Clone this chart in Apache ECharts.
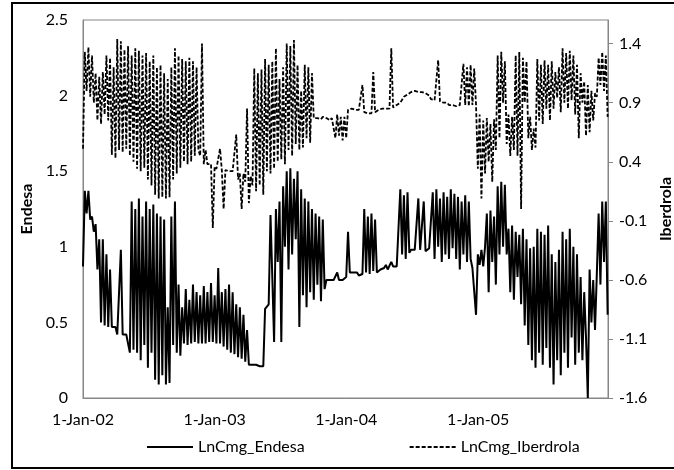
<!DOCTYPE html>
<html>
<head>
<meta charset="utf-8">
<script src="https://cdn.jsdelivr.net/npm/echarts@6/dist/echarts.min.js"></script>
<style>
    html, body { margin: 0; padding: 0; background: #fff; }
    #chart { width: 674px; height: 470px; }
</style>
</head>
<body>
<div id="chart"></div>
<script>
// first day of the series and spacing between readings (days)
var startDay = Date.UTC(2002, 0, 1);
var endDay = Date.UTC(2005, 11, 27);
var stepDays = 5;
var DAY = 86400000;

// LnCmg_Endesa, left axis, one reading every 5 days
var endesa = [
    0.87, 1.37, 1.22, 1.37, 1.18,  1.2, 1.1, 1.15, 0.85, 1.05,  0.5, 1.05, 0.48, 0.95, 0.47,
    0.85, 0.47, 0.47, 0.47, 0.42,  0.42, 0.98, 0.42, 0.42, 0.42,  0.42, 0.3, 1.3, 0.32, 1.25,
    0.3, 1.32, 0.25, 1.2, 0.35,  1.3, 0.2, 1.25, 0.3, 1.28,  0.12, 1.22, 0.09, 1.2, 0.15,
    1.18, 0.09, 0.6, 0.1, 1.2,  0.35, 1.3, 0.3, 0.75, 0.28,  0.6, 0.36, 0.72, 0.35, 0.65,
    0.36, 0.75, 0.37, 0.7, 0.36,  0.68, 0.36, 0.74, 0.36, 0.7,  0.37, 0.76, 0.37, 0.68, 0.36,
    0.86, 0.36, 0.7, 0.34, 0.72,  0.32, 0.75, 0.3, 0.7, 0.29,  0.62, 0.27, 0.6, 0.26, 0.55,
    0.24, 0.45, 0.22, 0.22, 0.22,  0.22, 0.22, 0.22, 0.21, 0.21,  0.21, 0.59, 0.6, 0.62, 1.21,
    0.8, 0.37, 1.25, 0.9, 1.3,  0.37, 1.4, 1.0, 1.5, 0.85,  1.52, 0.95, 1.45, 1.05, 1.5,
    0.47, 1.38, 0.68, 1.32, 0.6,  1.3, 0.7, 1.25, 0.65, 1.22,  0.75, 1.2, 0.64, 1.18, 0.72,
    0.78, 0.78, 0.78, 0.78, 0.78,  0.78, 0.83, 0.78, 0.78, 0.78,  0.78, 0.8, 1.1, 0.83, 0.82,
    0.83, 0.82, 0.83, 0.81, 0.82,  0.82, 1.25, 0.83, 1.2, 0.82,  1.22, 0.84, 1.18, 0.83, 0.84,
    0.85, 0.84, 0.86, 0.88, 0.85,  0.86, 0.9, 0.87, 0.86, 0.87,  0.88, 1.38, 0.95, 1.34, 0.92,
    1.36, 0.96, 0.98, 0.99, 0.98,  0.98, 1.32, 0.98, 0.97, 1.3,  0.97, 0.98, 0.99, 1.0, 1.36,
    0.92, 1.38, 1.0, 1.32, 0.9,  1.36, 0.95, 1.33, 0.92, 1.38,  0.99, 1.35, 0.92, 1.33, 0.85,
    1.3, 0.95, 1.34, 0.9, 1.3,  0.92, 0.86, 0.86, 0.55, 0.95,  0.88, 0.98, 0.87, 1.0, 1.22,
    0.7, 1.24, 0.9, 1.2, 0.75,  1.4, 0.95, 1.43, 1.0, 1.41,  0.95, 1.12, 0.7, 1.14, 0.65,
    1.1, 0.8, 1.08, 0.62, 1.12,  0.48, 1.05, 0.35, 0.99, 0.25,  1.0, 0.2, 1.12, 0.3, 1.1,
    0.22, 1.08, 0.33, 1.14, 0.2,  0.95, 0.09, 0.9, 0.25, 0.98,  0.15, 1.1, 0.3, 1.05, 0.2,
    1.12, 0.4, 1.0, 0.22, 0.95,  0.3, 0.8, 0.25, 0.7, 0.4,  0.0, 0.85, 0.5, 0.78, 0.45,
    0.82, 1.22, 0.75, 1.3, 0.9,  1.3, 0.55
];

// LnCmg_Iberdrola, right axis, same dates
var iberdrola = [
    0.51, 1.33, 1.0, 1.37, 0.95,  1.3, 0.9, 1.15, 0.75, 1.12,  0.72, 1.16, 0.8, 1.3, 0.75,
    1.28, 0.46, 1.2, 0.43, 1.44,  0.5, 1.42, 0.48, 1.35, 0.51,  1.38, 0.45, 1.3, 0.4, 1.36,
    0.34, 1.34, 0.32, 1.3, 0.35,  1.32, 0.25, 1.25, 0.2, 1.3,  0.12, 1.2, 0.09, 1.22, 0.1,
    1.15, 0.09, 1.1, 0.1, 1.2,  0.25, 1.36, 0.3, 1.3, 0.35,  1.27, 0.4, 1.25, 0.38, 1.28,
    0.4, 1.25, 0.45, 1.2, 0.5,  0.45, 1.4, 0.38, 0.5, 0.38,  0.38, 0.38, -0.16, 0.36, 0.34,
    0.34, 0.51, 0.33, 0.0, 0.33,  0.33, 0.32, 0.33, 0.32, 0.33,  0.63, 0.25, 0.3, 0.0, 0.3,
    0.23, 0.85, 0.05, 0.28, 0.2,  1.19, 0.15, 1.15, 0.2, 1.18,  0.12, 1.27, 0.32, 1.22, 0.3,
    1.25, 0.34, 1.36, 0.4, 1.1,  0.42, 1.2, 0.38, 1.4, 0.5,  1.38, 0.45, 1.43, 0.55, 1.22,
    0.5, 1.0, 0.52, 1.22, 0.6,  1.2, 0.56, 1.15, 0.77, 0.78,  0.77, 0.78, 0.76, 0.78, 0.77,
    0.77, 0.76, 0.75, 0.77, 0.76,  0.6, 0.8, 0.62, 0.78, 0.58,  0.78, 0.6, 0.84, 0.84, 0.85,
    0.84, 0.84, 0.83, 0.84, 0.84,  1.05, 0.82, 0.82, 0.81, 0.82,  0.81, 1.16, 0.82, 0.83, 0.84,
    0.84, 0.85, 0.84, 0.85, 0.85,  0.85, 1.36, 0.86, 0.87, 0.88,  0.89, 0.9, 0.91, 0.95, 0.96,
    0.97, 0.98, 0.99, 0.99, 1.0,  0.99, 0.99, 0.98, 0.99, 0.98,  0.98, 0.97, 0.96, 0.93, 0.93,
    0.92, 0.91, 1.26, 0.91, 0.9,  0.9, 0.89, 0.9, 0.88, 0.89,  0.88, 0.88, 0.87, 0.88, 0.88,
    0.88, 1.23, 0.88, 1.2, 0.87,  1.22, 0.88, 1.19, 0.88, 0.34,  0.8, 0.09, 0.75, 0.3, 0.77,
    0.4, 0.72, 0.23, 0.76, 0.5,  1.3, 0.6, 1.33, 0.9, 1.25,  0.55, 0.8, 0.45, 0.78, 0.5,
    1.3, 0.45, 1.33, 0.0, 1.28,  0.9, 1.25, 0.6, 0.78, 0.5,  0.68, 0.52, 1.27, 0.75, 1.22,
    0.72, 1.26, 0.85, 1.22, 0.75,  1.25, 0.85, 1.16, 0.94, 1.2,  0.82, 1.36, 0.9, 1.32, 0.85,
    1.34, 0.92, 1.3, 0.8, 1.22,  0.6, 1.15, 0.9, 1.08, 0.62,  1.05, 0.65, 1.0, 0.75, 0.98,
    0.95, 1.28, 1.05, 1.33, 1.0,  1.3, 0.78
];

// axis ticks
var xTicks = ['2002-01-01', '2003-01-01', '2004-01-01', '2005-01-01'];
var rightTicks = [-1.6, -1.1, -0.6, -0.1, 0.4, 0.9, 1.4];
var monthNames = ['Jan', 'Feb', 'Mar', 'Apr', 'May', 'Jun', 'Jul', 'Aug', 'Sep', 'Oct', 'Nov', 'Dec'];

var fontName = 'Lato';
var gray = '#868686';

// x is counted in days since 1-Jan-02
function toPairs(values) {
    var out = [];
    for (var i = 0; i < values.length; i++) {
        out.push([i * stepDays, values[i]]);
    }
    return out;
}

// 1-Jan-02 style labels
function dateLabel(dayNum) {
    var d = new Date(startDay + dayNum * DAY);
    var yy = String(d.getUTCFullYear() % 100);
    if (yy.length < 2) yy = '0' + yy;
    return d.getUTCDate() + '-' + monthNames[d.getUTCMonth()] + '-' + yy;
}

var xTickDays = xTicks.map(function (s) {
    var p = s.split('-');
    return Math.round((Date.UTC(+p[0], +p[1] - 1, +p[2]) - startDay) / DAY);
});

var myChart = echarts.init(document.getElementById('chart'), null, {renderer: 'canvas'});

var option = {
    animation: false,
    backgroundColor: '#fff',
    textStyle: {fontFamily: fontName, color: '#000'},
    grid: {
        left: 83, right: 66, top: 20, bottom: 72,
        outerBoundsMode: 'none',
        show: true, borderColor: gray, borderWidth: 1
    },
    graphic: [{
        type: 'rect',
        shape: {x: 12, y: 3, width: 700, height: 465},
        style: {fill: 'none', stroke: '#000', lineWidth: 2},
        silent: true
    }],
    legend: {
        left: 141, top: 434,
        itemWidth: 46, itemHeight: 14, itemGap: 104,
        itemStyle: {opacity: 0},
        textStyle: {fontFamily: fontName, fontSize: 16, color: '#000'},
        data: ['LnCmg_Endesa', 'LnCmg_Iberdrola']
    },
    xAxis: {
        type: 'value',
        min: 0,
        max: Math.round((endDay - startDay) / DAY),
        splitLine: {show: false},
        axisLine: {lineStyle: {color: gray, width: 1}},
        axisTick: {show: false},
        axisLabel: {
            customValues: xTickDays,
            formatter: function (v) { return dateLabel(v); },
            fontFamily: fontName, fontSize: 16, color: '#000', margin: 14
        }
    },
    yAxis: [{
        type: 'value',
        name: 'Endesa',
        nameLocation: 'middle',
        nameRotate: 90,
        nameGap: 47,
        nameTextStyle: {fontFamily: fontName, fontSize: 16, fontWeight: 'bold', color: '#000'},
        min: 0, max: 2.5, interval: 0.5,
        splitLine: {show: false},
        axisLine: {show: true, lineStyle: {color: gray}},
        axisTick: {show: false},
        axisLabel: {fontFamily: fontName, fontSize: 16, color: '#000', margin: 15}
    }, {
        type: 'value',
        name: 'Iberdrola',
        position: 'right',
        nameLocation: 'middle',
        nameRotate: 90,
        nameGap: 47,
        nameTextStyle: {fontFamily: fontName, fontSize: 16, fontWeight: 'bold', color: '#000'},
        min: -1.6, max: 1.6,
        splitLine: {show: false},
        axisLine: {show: true, lineStyle: {color: gray}},
        axisTick: {show: true, length: 5, customValues: rightTicks, lineStyle: {color: gray}},
        axisLabel: {customValues: rightTicks, fontFamily: fontName, fontSize: 16, color: '#000', margin: 11}
    }],
    series: [{
        name: 'LnCmg_Endesa',
        type: 'line',
        yAxisIndex: 0,
        symbol: 'none',
        lineStyle: {color: '#000', width: 2},
        itemStyle: {color: '#000'},
        data: toPairs(endesa)
    }, {
        name: 'LnCmg_Iberdrola',
        type: 'line',
        yAxisIndex: 1,
        symbol: 'none',
        lineStyle: {color: '#000', width: 1.8, type: [4, 2]},
        itemStyle: {color: '#000'},
        data: toPairs(iberdrola)
    }]
};

myChart.setOption(option);
</script>
</body>
</html>
